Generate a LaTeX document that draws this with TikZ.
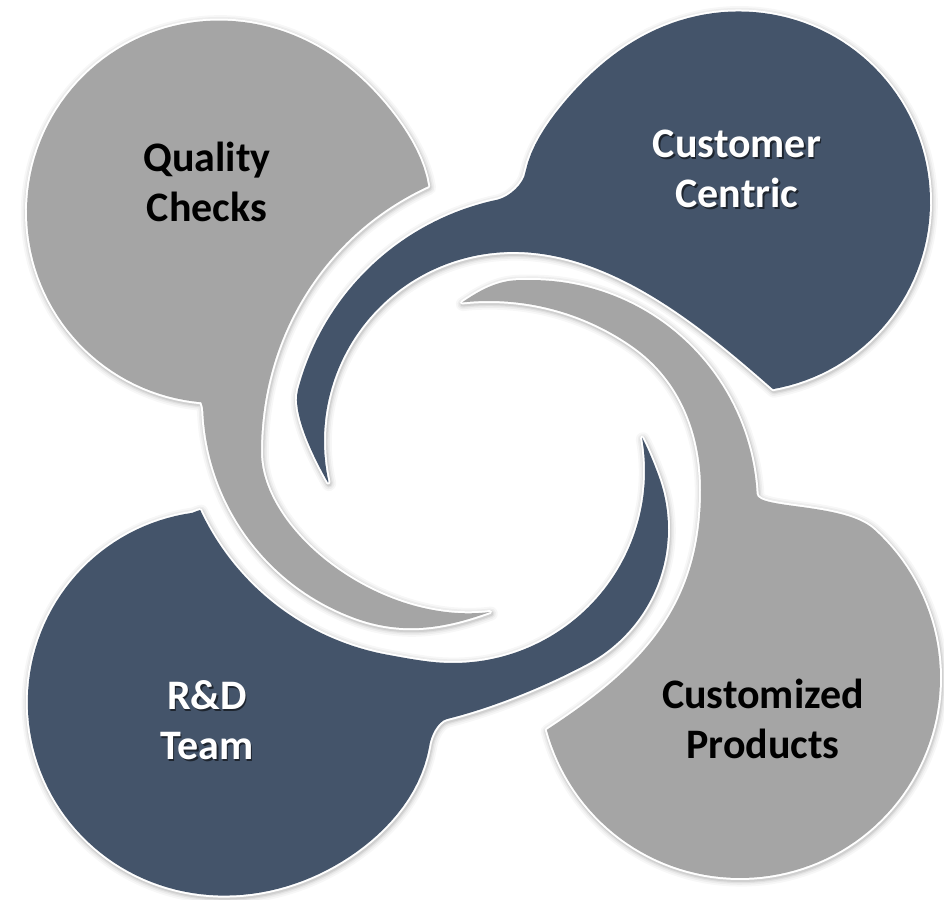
\documentclass[tikz,border=0pt]{standalone}
\usepackage{fontspec}
\setmainfont{Carlito}
\begin{document}
\begin{tikzpicture}[x=0.5pt,y=-0.5pt,line join=round]
\definecolor{gfill}{HTML}{A5A5A5}
\definecolor{dfill}{HTML}{44546A}
\tikzset{
  outlinew/.style={draw=white,line width=2pt},
  grayfill/.style={fill=gfill},
  darkfill/.style={fill=dfill},
  lbl/.style={font=\bfseries\fontsize{21}{25}\selectfont,align=center,inner sep=0pt},
}
\fill[white] (0,0) rectangle (944,900);
\useasboundingbox (0,0) rectangle (944,900);
\newcommand\shpQC{(202.5,406) -- plot[domain=95:353,samples=100,variable=\t] ({218+(191+21/(1+((\t-355)/36)^2)^2)*cos(\t)},{212+(191+21/(1+((\t-355)/36)^2)^2)*sin(\t)}) .. controls (324.9,233.8) and (261,336) .. (261,452) .. controls (261,532) and (380.8,625.4) .. (490,612) .. controls (443,629) and (402,635.1) .. (355,618.1) -- plot[domain=110:178,samples=40,variable=\t] ({434+231*cos(\t)},{401+231*sin(\t)}) -- cycle}
\newcommand\shpCC{(328,482.5) .. controls (315.4,460.4) and (291.7,414.2) .. (298,390) -- plot[domain=194.6:258.2,samples=40,variable=\t] ({551.5+262*cos(\t)},{456+262*sin(\t)}) .. controls (509.7,196.6) and (523.8,183.8) .. (525.5,171.9) -- plot[domain=188:440,samples=100,variable=\t] ({740+(190+27/(1+((\t-185)/35)^2)^2)*cos(\t)},{202+(190+27/(1+((\t-185)/35)^2)^2)*sin(\t)}) .. controls (698,323) and (607,248.9) .. (507,252) -- plot[domain=167.5:268.2,samples=60,variable=\t] ({513+189*cos(435.7-\t)},{441+189*sin(435.7-\t)}) -- cycle}
\newcommand\shpCP{(462,302.5) -- plot[domain=263.8:305,samples=40,variable=\t] ({489+250*cos(\t)},{551+250*sin(\t)}) .. controls (681.5,380.6) and (701,435) .. (701,490) .. controls (701,610) and (638,670) .. (546.8,729.8) -- plot[domain=-48:165,samples=90,variable=\t] ({740+200*cos(117-\t)},{678+200*sin(117-\t)}) .. controls (844.1,502.6) and (757.5,509.2) .. (756.7,494.2) -- plot[domain=268:357,samples=50,variable=\t] ({531+226*cos(625-\t)},{506+226*sin(625-\t)}) .. controls (498.1,279.2) and (478.8,291) .. (462,302.5) -- cycle}
\newcommand\shpRD{(197,511) -- plot[domain=100:155,samples=40,variable=\t] ({434+258*cos(255-\t)},{401+258*sin(255-\t)}) .. controls (405,657.9) and (420.4,660.9) .. (436.3,662.3) -- plot[domain=-10:95,samples=60,variable=\t] ({453+192*cos(85-\t)},{471+192*sin(85-\t)}) .. controls (647.9,448.3) and (654.7,465.4) .. (658.8,476.7) -- plot[domain=-20:62,samples=50,variable=\t] ({515+153*cos(\t)},{529+153*sin(\t)}) .. controls (542.7,687.6) and (490.7,708.2) .. (447,719) .. controls (437.3,721.4) and (430.3,736.7) .. (429.1,746.7) -- plot[domain=12:262,samples=100,variable=\t] ({219+(191+24/(1+((\t-15)/52)^2)^2)*cos(\t)},{702+(191+24/(1+((\t-15)/52)^2)^2)*sin(\t)}) -- cycle}
% soft shadows
\foreach \w/\o in {7/0.03,5.2/0.04,3.6/0.05,2.4/0.07}{
  \draw[black,draw opacity=\o,line width=\w pt,yshift=-0.8pt,xshift=0.4pt] \shpQC;
  \draw[black,draw opacity=\o,line width=\w pt,yshift=-0.8pt,xshift=0.4pt] \shpCC;
  \draw[black,draw opacity=\o,line width=\w pt,yshift=-0.8pt,xshift=0.4pt] \shpCP;
  \draw[black,draw opacity=\o,line width=\w pt,yshift=-0.8pt,xshift=0.4pt] \shpRD;
}
% white outlines
\draw[outlinew] \shpQC;
\draw[outlinew] \shpCC;
\draw[outlinew] \shpCP;
\draw[outlinew] \shpRD;
% fills
\fill[grayfill] \shpQC;
\fill[darkfill] \shpCC;
\fill[grayfill] \shpCP;
\fill[darkfill] \shpRD;
% labels
\node[lbl,text=black] (qc) at (207,182) {Quality\\Checks};
\node[lbl,text=black,text opacity=0.55] (ccs) at (738.5,171) {Customer\\Centric};
\node[lbl,text=white] (cc) at (737,169) {Customer\\Centric};
\node[lbl,text=black,text opacity=0.55] (rds) at (208.5,722) {R\&D\\Team};
\node[lbl,text=white] (rd) at (207,720) {R\&D\\Team};
\node[lbl,text=black] (cp) at (763,719) {Customized\\Products};
\end{tikzpicture}
\end{document}
